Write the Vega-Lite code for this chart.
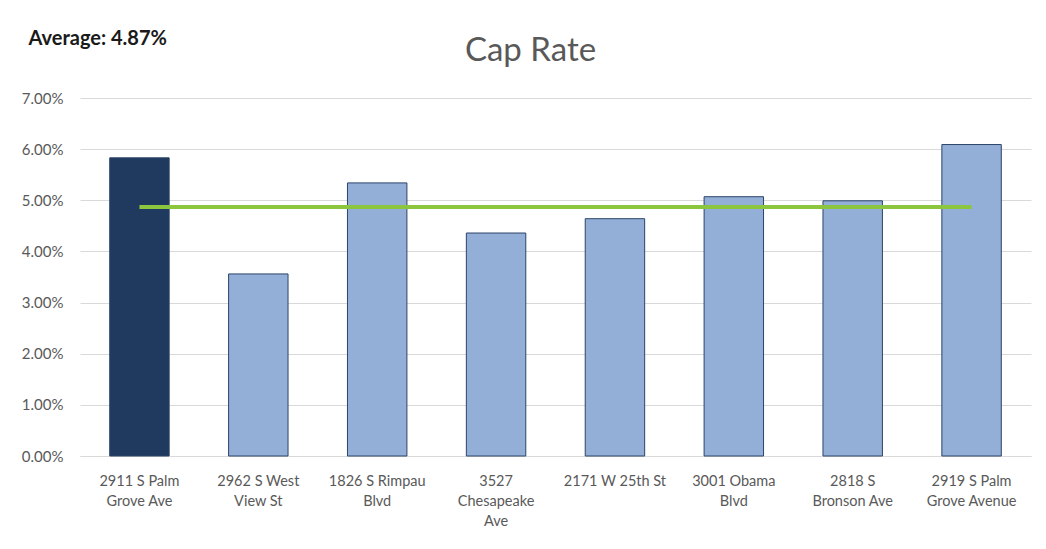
{
  "$schema": "https://vega.github.io/schema/vega-lite/v6.json",
  "width": 951,
  "height": 358,
  "autosize": {"type": "none"},
  "padding": {"left": 80, "top": 98, "right": 15, "bottom": 93},
  "background": "white",
  "config": {
    "font": "Lato",
    "view": {"stroke": null}
  },
  "title": {
    "text": "Cap Rate",
    "fontSize": 33,
    "fontWeight": "normal",
    "color": "#595959",
    "anchor": "middle",
    "offset": -40,
    "dx": -25
  },
  "data": {
    "values": [
      {"address": "2911 S Palm\nGrove Ave", "cap_rate": 0.0583, "type": "Subject"},
      {"address": "2962 S West\nView St", "cap_rate": 0.0356, "type": "Comparable"},
      {"address": "1826 S Rimpau\nBlvd", "cap_rate": 0.0534, "type": "Comparable"},
      {"address": "3527\nChesapeake\nAve", "cap_rate": 0.0436, "type": "Comparable"},
      {"address": "2171 W 25th St", "cap_rate": 0.0464, "type": "Comparable"},
      {"address": "3001 Obama\nBlvd", "cap_rate": 0.0507, "type": "Comparable"},
      {"address": "2818 S\nBronson Ave", "cap_rate": 0.0499, "type": "Comparable"},
      {"address": "2919 S Palm\nGrove Avenue", "cap_rate": 0.0609, "type": "Comparable"}
    ]
  },
  "encoding": {
    "x": {
      "field": "address",
      "type": "nominal",
      "sort": null,
      "scale": {"paddingInner": 0.5, "paddingOuter": 0.25},
      "axis": {
        "title": null,
        "labelAngle": 0,
        "labelExpr": "split(datum.label, '\\n')",
        "labelFontSize": 14.5,
        "labelColor": "#595959",
        "labelLineHeight": 20,
        "labelPadding": 18,
        "labelBaseline": "top",
        "ticks": false,
        "domainColor": "#D9D9D9",
        "labelLimit": 200
      }
    }
  },
  "layer": [
    {
      "mark": {"type": "bar", "stroke": "#2B4468", "strokeWidth": 1},
      "encoding": {
        "y": {
          "field": "cap_rate",
          "type": "quantitative",
          "scale": {"domain": [0, 0.07], "nice": false},
          "axis": {
            "title": "Average: 4.87%",
            "titleAngle": 0,
            "titleAlign": "left",
            "titleBaseline": "alphabetic",
            "titleX": -52,
            "titleY": -54,
            "titleFontSize": 20,
            "titleFontWeight": "bold",
            "titleColor": "#1A1A1A",
            "format": ".2%",
            "values": [0, 0.01, 0.02, 0.03, 0.04, 0.05, 0.06, 0.07],
            "labelFontSize": 15,
            "labelColor": "#595959",
            "labelPadding": 17,
            "ticks": false,
            "domain": false,
            "grid": true,
            "gridColor": "#D9D9D9"
          }
        },
        "color": {
          "field": "type",
          "type": "nominal",
          "scale": {"domain": ["Subject", "Comparable"], "range": ["#1F3A5E", "#93AFD7"]},
          "legend": null
        }
      }
    },
    {
      "mark": {"type": "line", "color": "#8CC63F", "strokeWidth": 4},
      "encoding": {
        "y": {"datum": 0.0487, "type": "quantitative", "scale": {"domain": [0, 0.07], "nice": false}}
      }
    }
  ]
}
